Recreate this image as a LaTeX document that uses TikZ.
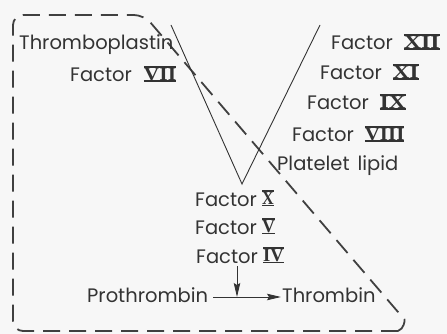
\documentclass[tikz,border=0pt]{standalone}
\usepackage{fontspec}
\usepackage{graphicx}
\setmainfont{Poppins}
\newfontfamily\numfont{Liberation Serif}
\usetikzlibrary{arrows.meta}

% Roman numeral with bars above and below; #1 = horizontal stretch
\newcommand\rn[2]{{\setbox0\hbox{\scalebox{#1}[1]{\numfont\bfseries\fontsize{19pt}{19pt}\selectfont #2}}%
  \vbox{\hrule height 1.5pt width \wd0 \kern0.1pt \copy0 \kern0.1pt \hrule height 1.5pt}}}

\tikzset{
  lbl/.style={inner sep=0pt, anchor=base west, text=black!80,
              font=\fontsize{19.5pt}{19.5pt}\selectfont},
  bound/.style={line width=1.8pt, black!75, dash pattern=on 17pt off 9pt},
  vline/.style={line width=0.9pt, black!80},
  flow/.style={line width=1pt, black!80,
               -{Stealth[length=14pt,width=6.5pt,inset=2pt]}}
}

\begin{document}
\begin{tikzpicture}[x=1pt,y=-1pt]
  \fill[white!97!black] (0,0) rectangle (447,334);
  \useasboundingbox (0,0) rectangle (447,334);

  % enclosing dashed outline
  \draw[bound] (398,331) [rounded corners=10pt] -- (13,331) -- (13,15) -- (144,15)
      -- (398,312) [sharp corners] .. controls (405,320) and (404,329) .. (398,331);

  % the V of the two pathways
  \coordinate (vl) at (171,25);
  \coordinate (vb) at (242,184);
  \coordinate (vr) at (320,25);
  \draw[vline] (vl) -- (vb) -- (vr);

  % extrinsic side
  \node[lbl] (thromb) at (19,50) {Thromboplastin};
  \node[lbl] (f7) at (70,82) {Factor\hspace{12pt}\rn{1.13}{VII}};

  % intrinsic side
  \node[lbl] (f12) at (331,50) {Factor\hspace{11pt}\rn{1.26}{XII}};
  \node[lbl] (f11) at (320,80) {Factor\hspace{11pt}\rn{1.22}{XI}};
  \node[lbl] (f9)  at (307,110) {Factor\hspace{11pt}\rn{1.22}{IX}};
  \node[lbl] (f8)  at (292,142) {Factor\hspace{11pt}\rn{1.1}{VIII}};
  \node[lbl] (plat) at (277,170) {Platelet\hspace{8pt}lipid};

  % common pathway
  \node[lbl] (f10) at (195,206) {Factor \rn{0.85}{X}};
  \node[lbl] (f5)  at (195,234) {Factor \rn{0.95}{V}};
  \node[lbl] (f4)  at (196,263) {Factor \rn{0.98}{IV}};
  \node[lbl] (pro) at (87,302) {Prothrombin};
  \node[lbl] (thr) at (282,302) {Thrombin};

  \coordinate (j) at (237,297);
  \draw[flow, shorten <=5pt, shorten >=1pt] (pro.east |- j) -- (thr.west |- j);
  \draw[flow] ([yshift=-3pt]f4.south -| j) -- (j);
\end{tikzpicture}
\end{document}
